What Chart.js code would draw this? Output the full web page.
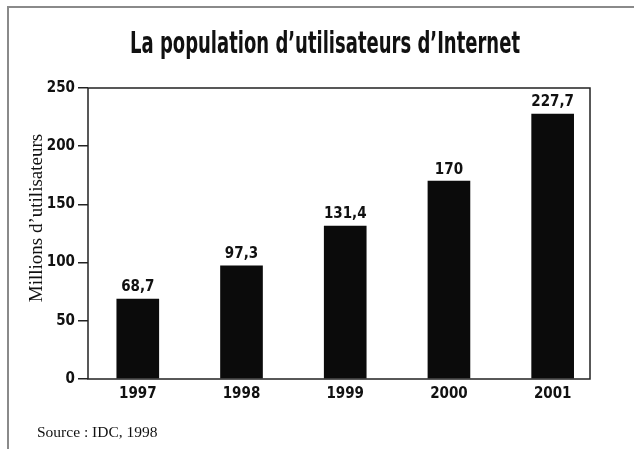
<!DOCTYPE html>
<html>
<head>
<meta charset="utf-8">
<script src="https://cdn.jsdelivr.net/npm/chart.js@4"></script>
<style>
  html, body { margin: 0; padding: 0; background: #fff; }
  #wrap { position: relative; width: 634px; height: 449px; overflow: hidden; }
  #frame { position: absolute; left: 7px; top: 6px; width: 625px; height: 460px; border: 2px solid #8a8a8a; }
  canvas { position: absolute; left: 0; top: 0; }
</style>
</head>
<body>
<div id="wrap">
  <div id="frame"></div>
  <canvas id="myChart" width="634" height="449"></canvas>
</div>
<script>
const ctx = document.getElementById('myChart');

// data
const years = [1997, 1998, 1999, 2000, 2001];
const users = [68.7, 97.3, 131.4, 170, 227.7];
const yTicks = [0, 50, 100, 150, 200, 250];

const chartTitle = "La population d\u2019utilisateurs d\u2019Internet";
const yTitle = "Millions d\u2019utilisateurs";
const sourceText = "Source : IDC, 1998";

const narrow = '"Liberation Sans Narrow", "DejaVu Sans Condensed", sans-serif';
const serif = '"Liberation Serif", "DejaVu Serif", serif';

function fmt(v) {
  return String(v).replace('.', ',');
}

// box round the plot, labels on bars, title and source
const extras = {
  id: 'extras',
  afterDatasetsDraw(chart) {
    const c = chart.ctx;
    const a = chart.chartArea;
    c.save();
    c.strokeStyle = '#222';
    c.lineWidth = 1.5;
    c.strokeRect(a.left, a.top, a.right - a.left, a.bottom - a.top);

    // values over the bars
    c.fillStyle = '#111';
    c.font = 'bold 15px ' + narrow;
    c.textAlign = 'center';
    c.textBaseline = 'bottom';
    chart.getDatasetMeta(0).data.forEach((bar, i) => {
      c.fillText(fmt(users[i]), bar.x, bar.y - 4);
    });

    // title, squeezed to the width of the original lettering
    c.font = 'bold 31px ' + narrow;
    c.textBaseline = 'middle';
    const w = c.measureText(chartTitle).width;
    c.save();
    c.translate(325, 45);
    c.scale(390 / w, 1);
    c.fillText(chartTitle, 0, 0);
    c.restore();

    // y title
    c.font = '19px ' + serif;
    c.save();
    c.translate(37, 218);
    c.rotate(-Math.PI / 2);
    c.fillText(yTitle, 0, 0);
    c.restore();

    // source
    c.font = '15.5px ' + serif;
    c.textAlign = 'left';
    c.fillText(sourceText, 37, 433);
    c.restore();
  }
};

new Chart(ctx, {
  type: 'bar',
  data: {
    datasets: [{
      data: years.map((y, i) => ({ x: y, y: users[i] })),
      backgroundColor: '#0b0b0b',
      barThickness: 42
    }]
  },
  options: {
    responsive: false,
    animation: false,
    layout: { padding: { top: 88, right: 44, left: 0, bottom: 0 } },
    plugins: {
      legend: { display: false },
      tooltip: { enabled: false }
    },
    scales: {
      x: {
        type: 'linear',
        min: 1996.52,
        max: 2001.36,
        offset: false,
        afterBuildTicks: (s) => { s.ticks = years.map(v => ({ value: v })); },
        afterFit: (s) => { s.height = 70; },
        grid: { display: false, drawTicks: false },
        border: { display: false },
        ticks: {
          color: '#111',
          padding: 6,
          font: { family: narrow, size: 15, weight: 'bold' },
          callback: (v) => String(v)
        }
      },
      y: {
        min: 0,
        max: 250,
        afterBuildTicks: (s) => { s.ticks = yTicks.map(v => ({ value: v })); },
        afterFit: (s) => { s.width = 88; },
        grid: { drawOnChartArea: false, drawTicks: true, tickLength: 10, color: '#222', lineWidth: 1.5 },
        border: { display: false },
        ticks: {
          color: '#111',
          padding: 3,
          font: { family: narrow, size: 15, weight: 'bold' }
        }
      }
    }
  },
  plugins: [extras]
});
</script>
</body>
</html>
